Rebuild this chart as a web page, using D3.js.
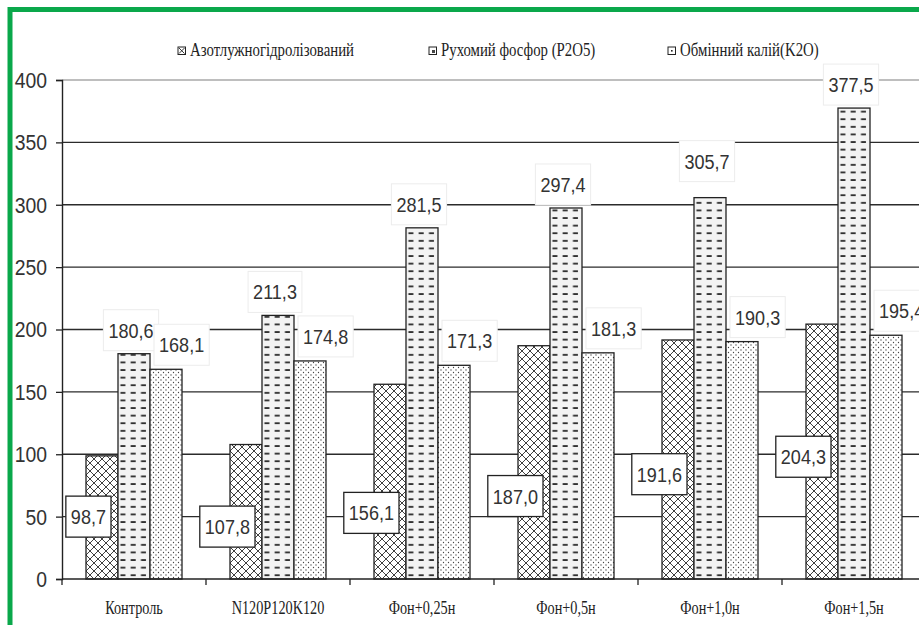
<!DOCTYPE html>
<html><head><meta charset="utf-8">
<script src="https://cdn.jsdelivr.net/npm/d3@7"></script>
<style>html,body{margin:0;padding:0;background:#fff;overflow:hidden}</style>
</head><body>
<svg id="chart" width="919" height="625"></svg>
<script>
const categories = ["Контроль","N120P120K120","Фон+0,25н","Фон+0,5н","Фон+1,0н","Фон+1,5н"];
const seriesNames = ["Азотлужногідролізований","Рухомий фосфор (P2O5)","Обмінний калій(K2O)"];
const nitrogen   = [98.7, 107.8, 156.1, 187.0, 191.6, 204.3];
const phosphorus = [180.6, 211.3, 281.5, 297.4, 305.7, 377.5];
const potassium  = [168.1, 174.8, 171.3, 181.3, 190.3, 195.4];
const yTicks = [0, 50, 100, 150, 200, 250, 300, 350, 400];

// manual label placement (as in the original, labels were dragged by hand)
const nLabelAt = [50, 42, 53, 66.5, 84, 98];      // value level of centre of N labels
const pLabelLift = [0, 0, 0, 0, 13, 0];           // extra lift (px) of P labels

const svg = d3.select("#chart");
const W = 919, H = 625;
const plotLeft = 62, plotBottom = 579, plotTop = 80, step = 144;

const x0 = d3.scaleBand().domain(categories).range([plotLeft, plotLeft + step * categories.length]).padding(0);
const x1 = d3.scaleBand().domain([0,1,2]).range([0, x0.bandwidth()]).paddingInner(0).paddingOuter(0.75);
const y = d3.scaleLinear().domain([0, 400]).range([plotBottom, plotTop]);

const defs = svg.append("defs");
// cross-hatch
const p1 = defs.append("pattern").attr("id","pN").attr("patternUnits","userSpaceOnUse")
  .attr("width",8).attr("height",8).attr("x", x0(categories[0]) + x1(0)).attr("y", plotBottom);
p1.append("rect").attr("width",8).attr("height",8).attr("fill","#fff");
p1.append("path").attr("d","M0,0L8,8M8,0L0,8M-1,7L1,9M7,-1L9,1M-1,1L1,-1M7,9L9,7")
  .attr("stroke","#2a2a2a").attr("stroke-width",0.9).attr("fill","none");
// dashes
const pw = step / 14;
const p2 = defs.append("pattern").attr("id","pP").attr("patternUnits","userSpaceOnUse")
  .attr("width",pw).attr("height",7.6).attr("x", x0(categories[0]) + x1(1)).attr("y", plotBottom);
p2.append("rect").attr("width",pw).attr("height",7.6).attr("fill","#f3f3f3");
p2.append("rect").attr("x",2.4).attr("y",3).attr("width",5).attr("height",1.7).attr("fill","#222");
// dots
const p3 = defs.append("pattern").attr("id","pK").attr("patternUnits","userSpaceOnUse")
  .attr("width",5).attr("height",5).attr("x", x0(categories[0]) + x1(2)).attr("y", plotBottom);
p3.append("rect").attr("width",5).attr("height",5).attr("fill","#fff");
p3.append("circle").attr("cx",1).attr("cy",1).attr("r",0.65).attr("fill","#444");
p3.append("circle").attr("cx",3.5).attr("cy",3.5).attr("r",0.65).attr("fill","#444");

svg.append("rect").attr("width",W).attr("height",H).attr("fill","#fff");

// gridlines
svg.append("g").selectAll("line").data(yTicks.filter(d => d > 0)).join("line")
  .attr("x1", plotLeft).attr("x2", plotLeft + step * categories.length)
  .attr("y1", d => y(d)).attr("y2", d => y(d))
  .attr("stroke", d => d === 400 ? "#a8a8a8" : "#2b2b2b")
  .attr("stroke-width", d => d === 400 ? 1.6 : 1.3);

// bars
const series = [
  {vals: nitrogen, fill: "url(#pN)"},
  {vals: phosphorus, fill: "url(#pP)"},
  {vals: potassium, fill: "url(#pK)"}
];
series.forEach((s, si) => {
  svg.append("g").selectAll("rect").data(s.vals).join("rect")
    .attr("x", (d, i) => x0(categories[i]) + x1(si))
    .attr("width", x1.bandwidth())
    .attr("y", d => y(d))
    .attr("height", d => y(0) - y(d))
    .attr("fill", s.fill)
    .attr("stroke", "#222").attr("stroke-width", 1.3);
});

// axes
const yAxis = svg.append("g").attr("transform", `translate(${plotLeft},0)`)
  .call(d3.axisLeft(y).tickValues(yTicks).tickSize(6).tickPadding(9).tickFormat(d3.format("d")));
yAxis.select(".domain").attr("stroke","#222").attr("stroke-width",1.4);
yAxis.selectAll(".tick line").attr("stroke","#222").attr("stroke-width",1.3);
yAxis.selectAll(".tick text").attr("font-family","'Liberation Sans', Arial, sans-serif")
  .attr("font-size",22).attr("fill","#333")
  .attr("transform", function(){ const xx = +d3.select(this).attr("x"); return `translate(${xx*0.12},0) scale(0.88,1)`; })
  .attr("dy","0.34em");

const xAxis = svg.append("g").attr("transform", `translate(0,${plotBottom})`)
  .call(d3.axisBottom(x0).tickSize(0).tickFormat(""));
xAxis.select(".domain").remove();
svg.append("line").attr("x1",plotLeft).attr("x2",plotLeft + step*categories.length)
  .attr("y1",plotBottom).attr("y2",plotBottom).attr("stroke","#222").attr("stroke-width",1.4);
svg.append("g").selectAll("line").data(d3.range(categories.length + 1)).join("line")
  .attr("x1", i => plotLeft + i * x0.step()).attr("x2", i => plotLeft + i * x0.step())
  .attr("y1", plotBottom).attr("y2", plotBottom + 6).attr("stroke","#222").attr("stroke-width",1.3);

// category labels
svg.append("g").selectAll("text").data(categories).join("text")
  .attr("transform", d => `translate(${x0(d) + x0.bandwidth()/2},614) scale(0.75,1)`)
  .attr("text-anchor","middle")
  .attr("font-family","'Liberation Serif','Times New Roman',serif")
  .attr("font-size",19).attr("fill","#222").text(d => d);

// legend
const legendX = [178, 429, 668];
const lg = svg.append("g");
seriesNames.forEach((name, i) => {
  const g = lg.append("g").attr("transform", `translate(${legendX[i]},47)`);
  g.append("rect").attr("width",7.5).attr("height",7.5).attr("fill","#fff").attr("stroke","#222").attr("stroke-width",1);
  if (i === 0) g.append("path").attr("d","M1,1L6.5,6.5M6.5,1L1,6.5").attr("stroke","#222").attr("stroke-width",0.9);
  if (i === 1) g.append("rect").attr("x",3).attr("y",3).attr("width",3).attr("height",3).attr("fill","#444");
  if (i === 2) g.append("rect").attr("x",3).attr("y",3).attr("width",1.6).attr("height",1.6).attr("fill","#222");
  g.append("text").attr("transform","translate(12,8.5) scale(0.78,1)")
    .attr("font-family","'Liberation Serif','Times New Roman',serif")
    .attr("font-size",19).attr("fill","#222").text(name);
});

// data labels
const fmt = v => v.toFixed(1).replace(".", ",");
const SX = 0.86, PADX = 5, BH = 41;
function labelBox(cx, cy, text, bordered, anchor) {
  const g = svg.append("g");
  const r = g.append("rect");
  const t = g.append("text")
    .attr("font-family","'Liberation Sans', Arial, sans-serif")
    .attr("font-size",21).attr("fill","#333").attr("text-anchor","middle")
    .attr("dy","0.36em").text(text);
  const tw = t.node().getComputedTextLength() * SX;
  const bw = tw + 2 * PADX;
  let bx;
  if (anchor === "right") bx = cx - bw;
  else if (anchor === "left") bx = cx;
  else bx = cx - bw / 2;
  r.attr("x", bx).attr("y", cy - BH/2).attr("width", bw).attr("height", BH)
    .attr("fill","#fff").attr("stroke", bordered ? "#222" : "#ececec")
    .attr("stroke-width", bordered ? 1.3 : 1);
  t.attr("transform", `translate(${bx + bw/2},${cy}) scale(${SX},1)`);
}

// phosphorus labels (above bars)
phosphorus.forEach((v, i) => {
  const bx = x0(categories[i]) + x1(1);
  labelBox(bx + x1.bandwidth()/2 - 3, y(v) - 3 - pLabelLift[i] - BH/2, fmt(v), false, "middle");
});
// potassium labels
potassium.forEach((v, i) => {
  const bx = x0(categories[i]) + x1(2);
  labelBox(bx + 4, y(v) - 4 - BH/2, fmt(v), false, "left");
});
// nitrogen labels (boxed, on the left of the bar)
nitrogen.forEach((v, i) => {
  const bx = x0(categories[i]) + x1(0);
  labelBox(bx + x1.bandwidth() - 7, y(nLabelAt[i]), fmt(v), true, "right");
});

// green frame
svg.append("rect").attr("x",10).attr("y",9.5).attr("width",1200).attr("height",1200)
  .attr("fill","none").attr("stroke","#0aa84b").attr("stroke-width",5);
</script>
</body></html>
